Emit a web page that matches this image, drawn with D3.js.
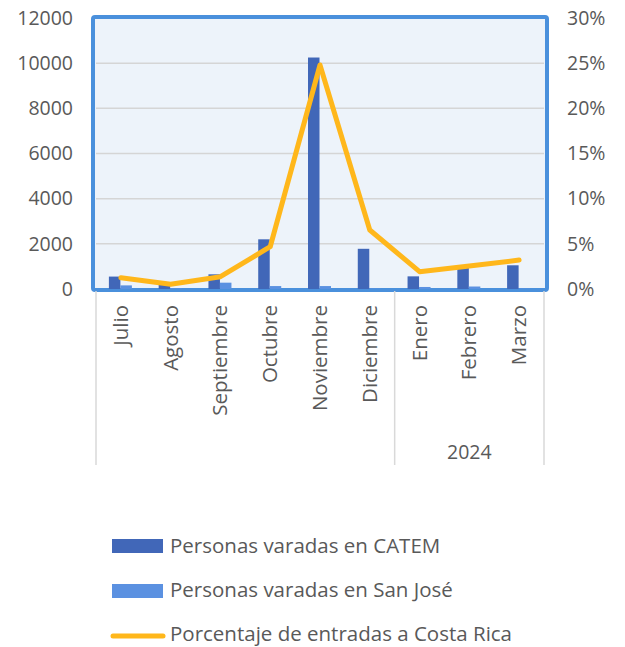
<!DOCTYPE html>
<html>
<head>
<meta charset="utf-8">
<script src="https://cdn.jsdelivr.net/npm/d3@7"></script>
<style>
  body { margin: 0; background: #fff; }
  svg { display: block; font-family: "Open Sans", Lato, sans-serif; }
</style>
</head>
<body>
<svg id="chart" width="625" height="647"></svg>
<script>
const months = ['Julio', 'Agosto', 'Septiembre', 'Octubre', 'Noviembre', 'Diciembre', 'Enero', 'Febrero', 'Marzo'];
const catem = [550, 180, 650, 2200, 10250, 1780, 560, 950, 1050];
const sanJose = [160, 30, 280, 130, 130, 20, 90, 110, 20];
const pctEntradas = [0.0125, 0.0052, 0.0136, 0.0468, 0.248, 0.0653, 0.0192, 0.0255, 0.032];
const leftTicks = [0, 2000, 4000, 6000, 8000, 10000, 12000];
const rightTicks = [0, 0.05, 0.10, 0.15, 0.20, 0.25, 0.30];
const yearGroups = [{ label: '', from: 0, to: 6 }, { label: '2024', from: 6, to: 9 }];
const seriesNames = ['Personas varadas en CATEM', 'Personas varadas en San José', 'Porcentaje de entradas a Costa Rica'];

const colCatem = '#4167b8', colSJ = '#5b91e1', colLine = '#ffb71b', frameCol = '#4a90dc';
const textCol = '#595959';
const fs = '19.5px';
const fsText = '20.5px';

const svg = d3.select('#chart');
const plot = { left: 96, right: 544, top: 18, bottom: 289 };

const x = d3.scaleBand().domain(months).range([plot.left, plot.right]);
const yL = d3.scaleLinear().domain([0, 12000]).range([plot.bottom, plot.top]);
const yR = d3.scaleLinear().domain([0, 0.30]).range([plot.bottom, plot.top]);

// plot background + frame
svg.append('rect')
  .attr('x', 93).attr('y', plot.top - 1)
  .attr('width', 454).attr('height', plot.bottom - plot.top + 2)
  .attr('rx', 2)
  .attr('fill', '#edf3fa')
  .attr('stroke', frameCol)
  .attr('stroke-width', 4);

// grid lines
svg.append('g')
  .selectAll('line')
  .data(leftTicks.slice(1, -1))
  .join('line')
  .attr('x1', 96).attr('x2', 544)
  .attr('y1', d => yL(d)).attr('y2', d => yL(d))
  .attr('stroke', '#d5d5d5').attr('stroke-width', 1.5);

// left axis labels
svg.append('g')
  .selectAll('text')
  .data(leftTicks)
  .join('text')
  .attr('x', 73).attr('y', d => yL(d))
  .attr('dy', '0.35em')
  .attr('text-anchor', 'end')
  .attr('fill', textCol)
  .style('font-size', fs)
  .text(d => d);

// right axis labels
svg.append('g')
  .selectAll('text')
  .data(rightTicks)
  .join('text')
  .attr('x', 567).attr('y', d => yR(d))
  .attr('dy', '0.35em')
  .attr('text-anchor', 'start')
  .attr('fill', textCol)
  .style('font-size', fs)
  .text(d3.format('.0%'));

// bars
const bw = 11.5;
svg.append('g')
  .selectAll('rect')
  .data(catem)
  .join('rect')
  .attr('x', (d, i) => x(months[i]) + x.bandwidth() / 2 - bw - 0.5)
  .attr('y', d => yL(d))
  .attr('width', bw)
  .attr('height', d => yL(0) - yL(d))
  .attr('fill', colCatem);

svg.append('g')
  .selectAll('rect')
  .data(sanJose)
  .join('rect')
  .attr('x', (d, i) => x(months[i]) + x.bandwidth() / 2 - 0.5)
  .attr('y', d => yL(d))
  .attr('width', bw)
  .attr('height', d => yL(0) - yL(d))
  .attr('fill', colSJ);

// bottom axis line
svg.append('line')
  .attr('x1', 96).attr('x2', 544)
  .attr('y1', plot.bottom + 1).attr('y2', plot.bottom + 1)
  .attr('stroke', frameCol).attr('stroke-width', 2);

// percentage line
const line = d3.line()
  .x((d, i) => x(months[i]) + x.bandwidth() / 2)
  .y(d => yR(d));
svg.append('path')
  .datum(pctEntradas)
  .attr('d', line)
  .attr('fill', 'none')
  .attr('stroke', colLine)
  .attr('stroke-width', 5)
  .attr('stroke-linecap', 'round')
  .attr('stroke-linejoin', 'round');

// category labels
svg.append('g')
  .selectAll('text')
  .data(months)
  .join('text')
  .attr('transform', d => `translate(${x(d) + x.bandwidth() / 2 + 7},305) rotate(-90)`)
  .attr('text-anchor', 'end')
  .attr('fill', textCol)
  .style('font-size', fsText)
  .text(d => d);

// group separators
const seps = [0, 6, 9].map(i => plot.left + i * x.step());
svg.append('g')
  .selectAll('line')
  .data(seps)
  .join('line')
  .attr('x1', d => d).attr('x2', d => d)
  .attr('y1', 291).attr('y2', 465)
  .attr('stroke', '#d9d9d9').attr('stroke-width', 1.5);

svg.append('g')
  .selectAll('text')
  .data(yearGroups)
  .join('text')
  .attr('x', d => plot.left + (d.from + d.to) / 2 * x.step())
  .attr('y', 452)
  .attr('dy', '0.35em')
  .attr('text-anchor', 'middle')
  .attr('fill', textCol)
  .style('font-size', fs)
  .text(d => d.label);

// legend
const legY = [546, 590, 633.5];
const leg = svg.append('g');
[colCatem, colSJ].forEach((c, i) => {
  leg.append('rect')
    .attr('x', 112).attr('y', [539, 584][i])
    .attr('width', 51).attr('height', 14)
    .attr('fill', c);
});
leg.append('line')
  .attr('x1', 113).attr('x2', 163)
  .attr('y1', 636).attr('y2', 636)
  .attr('stroke', colLine).attr('stroke-width', 5)
  .attr('stroke-linecap', 'round');
leg.selectAll('text')
  .data(seriesNames)
  .join('text')
  .attr('x', 170).attr('y', (d, i) => legY[i])
  .attr('dy', '0.35em')
  .attr('fill', textCol)
  .style('font-size', fsText)
  .text(d => d);
</script>
</body>
</html>
